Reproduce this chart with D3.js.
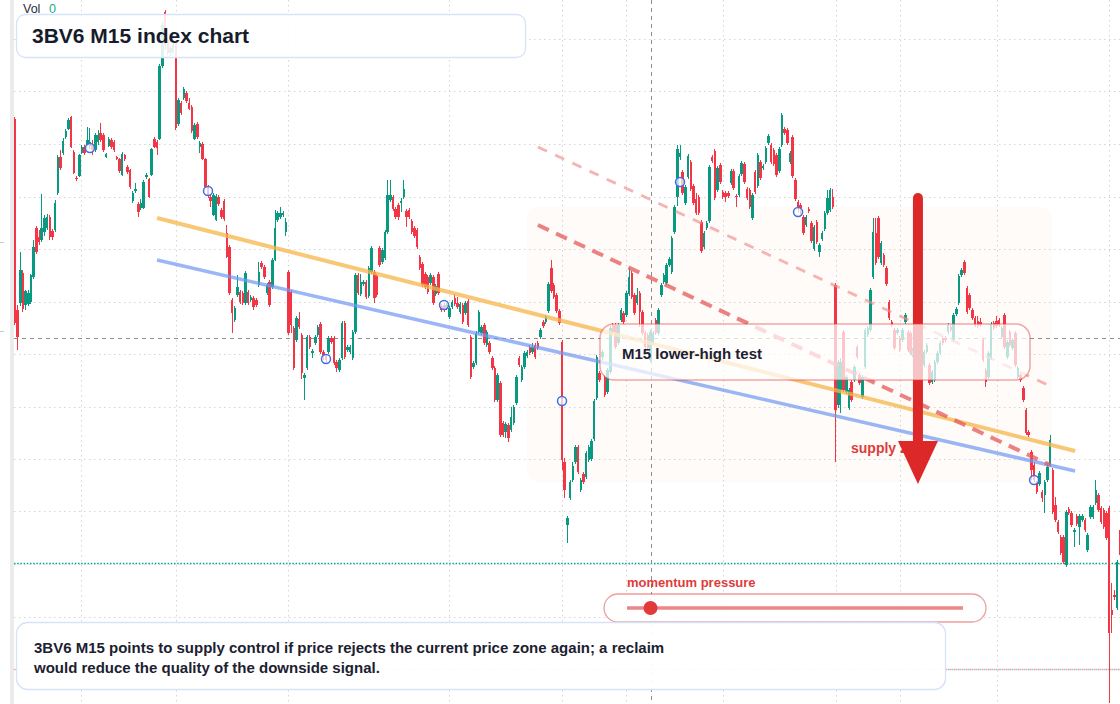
<!DOCTYPE html>
<html>
<head>
<meta charset="utf-8">
<script src="https://cdn.jsdelivr.net/npm/d3@7"></script>
<style>
  body { margin: 0; background: #fff; }
  svg { display: block; }
  text { font-family: "Liberation Sans", Arial, sans-serif; }
</style>
</head>
<body>
<div class="svg-container"></div>
<script>
// M15 candles (index units on x, price units on y)
const opens = [
  881,690,697,727,695,696,698,723,772,763, 760,768,772,783,769,770,807,843,847,863,
  871,883,848,822,824,847,853,855,854,855, 850,858,867,865,843,854,860,858,843,841,
  825,845,833,830,799,809,796,792,792,823, 821,825,861,858,861,934,988,960,947,948,
  958,876,897,902,907,897,893,861,876,853, 856,841,813,803,785,780,803,790,799,767,
  753,700,680,705,708,707,697,708,700,702, 700,715,737,733,707,718,713,740,780,783,
  785,768,728,708,672,660,681,665,622,632, 663,647,657,665,676,648,644,648,662,662,
  638,630,642,677,650,648,642,668,725,706, 716,718,704,728,728,724,752,738,742,768,
  800,803,791,795,797,803,789,790,779,772, 770,743,736,726,723,717,723,706,726,694,
  695,692,683,693,702,697,688,695,687,699, 663,633,637,668,667,675,655,657,642,632,
  600,617,577,568,575,570,577,597,642,620, 633,644,653,648,655,657,663,678,678,689,
  732,715,705,689,658,538,475,502,520,538, 553,510,526,523,540,541,561,602,627,643,
  623,608,628,675,675,657,680,687,685,706, 727,705,697,707,688,667,665,640,657,680,
  667,705,718,717,735,728,768,803,843,828, 797,823,838,814,801,803,778,753,772,779,
  843,849,810,835,808,807,807,817,829,804, 805,826,836,811,810,782,828,814,838,832,
  838,857,855,850,845,829,855,871,870,838, 863,820,798,795,783,775,791,777,751,778,
  748,761,771,787,790,803,715,595,610,668, 608,592,618,620,653,625,603,633,665,670,
  723,767,782,737,745,732,698,678,670,667, 662,660,678,668,667,645,645,655,640,635,
  648,635,618,620,638,647,662,662,668,673, 660,686,697,725,738,712,705,690,682,679,
  678,660,630,623,642,677,679,680,663,685, 643,668,652,667,623,625,612,590,568,548,
  535,517,516,508,505,520,535,530,495,478, 463,463,435,491,487,468,484,473,480,480,
  450,483,483,497,505,492,490,487,492,390, 405,392,457
];
const highs = [
  883,695,748,730,710,710,726,760,774,770, 806,785,786,785,771,800,845,850,862,871,
  882,884,850,824,846,855,855,873,872,860, 867,870,877,867,847,863,862,860,844,842,
  848,846,835,831,809,817,798,801,820,827, 822,852,863,860,936,978,990,962,954,958,
  960,902,899,913,909,902,895,877,878,859, 858,842,815,805,807,806,805,792,801,775,
  755,702,694,725,710,709,729,710,705,704, 702,738,739,735,717,720,742,790,789,793,
  789,782,730,710,674,684,688,667,627,665, 665,651,665,675,678,650,646,664,664,664,
  640,642,679,679,655,655,670,727,727,726, 720,720,734,754,730,726,754,752,770,820,
  820,805,793,797,802,820,791,792,781,774, 772,745,738,728,725,727,725,716,728,696,
  697,697,694,700,706,703,698,697,699,701, 665,639,669,690,675,677,670,659,644,634,
  627,619,579,578,577,593,595,625,644,635, 649,650,655,657,657,659,672,680,685,718,
  740,717,707,691,660,542,484,520,538,555, 555,522,528,549,555,561,601,645,629,650,
  625,632,674,677,677,677,692,689,709,732, 729,707,712,709,690,669,667,670,669,682,
  692,717,727,737,743,764,795,855,855,830, 815,846,840,816,807,805,780,769,779,835,
  845,851,834,837,810,809,809,831,831,806, 826,839,838,813,812,807,830,847,840,836,
  854,866,857,852,847,853,887,873,872,849, 865,822,800,797,785,785,793,779,775,780,
  757,769,789,810,812,811,717,640,642,670, 625,612,620,635,655,627,625,672,674,712,
  782,782,784,759,747,734,700,680,672,672, 664,672,687,670,669,654,652,657,652,650,
  657,637,630,640,649,659,664,664,677,675, 687,693,726,732,740,714,707,692,684,684,
  682,662,632,649,678,679,684,682,674,687, 660,670,662,669,634,627,614,592,570,550,
  538,519,529,510,520,535,565,532,503,480, 465,465,490,493,489,472,486,486,486,482,
  467,495,495,520,507,494,492,489,494,417, 410,440,470
];
const lows = [
  675,650,694,688,690,694,696,721,746,755, 758,764,770,760,760,768,805,830,845,861,
  870,852,826,819,823,846,845,854,851,845, 848,855,858,848,842,853,851,848,840,827,
  824,839,826,811,797,807,783,790,791,821, 802,824,852,845,860,932,950,945,944,946,
  870,874,885,900,897,890,867,860,861,847, 840,812,802,793,784,779,794,781,779,742,
  705,667,678,703,696,695,695,695,698,690, 693,713,731,721,705,693,711,739,778,781,
  783,764,665,667,630,658,671,621,600,630, 651,642,655,663,646,640,638,646,656,635,
  628,628,640,641,648,646,640,666,705,704, 714,701,702,726,697,703,733,736,740,766,
  798,789,781,780,788,801,773,781,766,762, 751,730,713,711,706,715,695,704,705,688,
  688,690,681,691,694,691,686,676,685,673, 621,631,635,666,665,655,653,646,630,598,
  598,563,563,562,558,568,575,595,633,618, 631,642,645,646,641,650,661,672,676,687,
  707,701,687,675,530,502,457,500,518,536, 526,508,516,521,538,539,559,600,618,640,
  603,606,626,666,651,655,678,676,683,704, 701,685,695,673,665,651,650,638,655,665,
  665,703,716,715,733,726,766,794,840,805, 795,821,809,795,785,785,747,751,770,777,
  837,800,808,816,801,798,802,815,810,793, 803,824,816,800,791,780,806,812,820,830,
  836,855,836,834,823,827,853,865,855,836, 822,799,788,785,765,773,787,757,749,756,
  743,759,769,785,788,791,538,592,587,608, 606,590,598,618,641,615,601,631,663,668,
  721,735,741,735,733,714,680,673,650,665, 648,658,676,648,645,643,643,646,638,633,
  646,615,616,618,636,645,655,658,666,668, 658,684,695,723,725,686,690,680,673,672,
  673,638,613,621,640,670,672,673,661,651, 641,653,650,633,621,618,598,565,563,520,
  518,506,514,498,487,518,533,486,478,466, 445,436,433,485,473,453,474,455,478,468,
  448,481,481,495,488,476,471,460,297,367, 400,390,445
];
const closes = [
  677,663,730,691,709,707,725,753,748,758, 772,782,783,763,763,797,843,832,859,869,
  880,853,827,821,845,853,847,860,858,850, 865,865,860,850,846,861,853,850,841,829,
  846,841,828,813,807,811,788,797,818,825, 803,851,853,852,934,975,955,947,952,956,
  872,900,887,911,899,891,869,875,863,857, 841,813,805,799,805,804,796,783,781,743,
  707,687,692,713,698,697,727,697,703,693, 695,728,733,723,715,695,740,772,787,787,
  787,778,667,675,632,682,673,627,625,663, 653,649,663,673,648,644,640,662,658,637,
  632,640,677,643,653,653,668,725,707,718, 718,703,732,752,702,705,735,750,768,805,
  805,791,783,783,799,811,783,783,768,764, 753,732,715,713,708,725,697,714,707,690,
  691,695,692,698,696,693,696,678,697,675, 623,637,667,688,673,657,668,648,632,600,
  625,565,565,576,562,583,593,623,635,633, 647,648,647,653,643,652,670,674,683,716,
  709,703,689,677,540,510,482,518,534,553, 528,520,518,547,553,559,599,643,620,648,
  605,630,672,668,653,675,690,678,707,723, 703,687,705,688,667,653,652,668,667,667,
  690,715,725,735,741,762,793,851,847,807, 813,844,811,797,787,787,749,767,777,833,
  839,802,832,818,803,803,804,829,812,803, 824,837,818,802,793,805,808,845,822,834,
  852,864,838,836,825,851,885,867,857,847, 824,801,793,792,767,783,789,759,773,758,
  755,767,787,802,810,793,590,638,638,610, 623,610,600,633,643,617,623,670,672,710,
  768,737,743,757,735,716,682,675,652,670, 650,670,685,650,647,652,650,648,650,648,
  655,617,628,638,647,657,657,660,675,670, 685,691,724,730,727,688,692,682,675,674,
  675,640,618,647,676,672,674,675,672,653, 658,655,660,635,632,620,600,567,565,530,
  520,508,527,502,518,533,560,488,480,468, 447,438,488,487,475,470,476,484,484,470,
  465,493,493,510,490,478,473,462,367,385, 403,438,447
];

// grid ticks (no labels are shown on the picture)
const priceGrid = [961, 908.5, 856, 803.5, 751, 698.5, 646, 593.5, 541, 488.5, 436, 383.5, 331];
const timeTicks = [24.5, 60, 102, 162, 204, 228, 264, 306, 330, 366, 408];
const leftAxisTicks = [758, 669];

// annotations in data units
const markerIdx = [28, 72, 116, 160, 204, 248, 292, 336, 380];
const markerPrices = [852, 809, 641, 695, 599, 818, 788, 647, 520];
const resistanceLine = [[53, 782], [395.3, 549]];
const supportLine = [[53, 740], [395.3, 529]];
const channelLower = [[195, 775], [386, 535]];
const channelUpper = [[195, 853], [386.7, 613]];
const zoneIdx = [190.9, 386.7];
const zonePrices = [793, 518];
const arrowIdx = 336.7;
const arrowPrices = [802, 559, 516]; // top, head base, tip
const crossIdx = 237;
const crossPrice = 662;
const tealLevel = 437;
const pinkLevel = 331;
const momentumValue = 7; // 0..100

const up = '#089981';
const down = '#f23645';

const width = 1120;
const height = 704;

const svg = d3.select('.svg-container')
  .append('svg')
  .attr('width', width)
  .attr('height', height);

const x = d3.scaleLinear().domain([0, opens.length - 1]).range([14.9, 1119.9]);
const y = d3.scaleLinear().domain([300, 1000]).range([700, 0]);
const px = v => Math.round(v) + 0.5;

svg.append('rect').attr('width', width).attr('height', height).attr('fill', '#fff');

// left price-scale strip
svg.append('rect').attr('x', 10).attr('y', 0).attr('width', 4).attr('height', height).attr('fill', '#ebebeb');
svg.append('g').selectAll('line').data(leftAxisTicks).join('line')
  .attr('x1', 0).attr('x2', 4)
  .attr('y1', d => px(y(d))).attr('y2', d => px(y(d)))
  .attr('stroke', '#c8c8c8');

// grid
const grid = svg.append('g').attr('stroke', '#d4d4d4').attr('stroke-dasharray', '1.5,3.5');
grid.append('g').selectAll('line').data(priceGrid).join('line')
  .attr('x1', 14).attr('x2', width)
  .attr('y1', d => px(y(d))).attr('y2', d => px(y(d)));
grid.append('g').selectAll('line').data(timeTicks).join('line')
  .attr('x1', d => px(x(d))).attr('x2', d => px(x(d)))
  .attr('y1', 0).attr('y2', height);

// supply zone
svg.append('rect')
  .attr('x', x(zoneIdx[0])).attr('width', x(zoneIdx[1]) - x(zoneIdx[0]))
  .attr('y', y(zonePrices[0])).attr('height', y(zonePrices[1]) - y(zonePrices[0]))
  .attr('rx', 12)
  .attr('fill', 'rgba(240, 190, 140, 0.06)');

// levels and crosshair
svg.append('line')
  .attr('x1', 14).attr('x2', width)
  .attr('y1', px(y(tealLevel))).attr('y2', px(y(tealLevel)))
  .attr('stroke', '#0aa488').attr('stroke-width', 1.4).attr('stroke-dasharray', '1.5,1.7');
svg.append('line')
  .attr('x1', 14).attr('x2', width)
  .attr('y1', px(y(pinkLevel))).attr('y2', px(y(pinkLevel)))
  .attr('stroke', '#f49a9a').attr('stroke-width', 1.3).attr('stroke-dasharray', '1.5,2.5');
svg.append('line')
  .attr('x1', 16).attr('x2', width)
  .attr('y1', px(y(pinkLevel))).attr('y2', px(y(pinkLevel)))
  .attr('stroke', '#8fd3c6').attr('stroke-width', 1.3).attr('stroke-dasharray', '1.5,2.5');

svg.append('line')
  .attr('x1', 14).attr('x2', width)
  .attr('y1', px(y(crossPrice))).attr('y2', px(y(crossPrice)))
  .attr('stroke', '#8c8c8c').attr('stroke-dasharray', '4,4');
svg.append('line')
  .attr('x1', px(x(crossIdx))).attr('x2', px(x(crossIdx)))
  .attr('y1', 0).attr('y2', height)
  .attr('stroke', '#8c8c8c').attr('stroke-dasharray', '4,4');

// candles
const candles = opens.map((o, i) => ({ i, o, h: highs[i], l: lows[i], c: closes[i] }));
const cg = svg.append('g').attr('shape-rendering', 'crispEdges');
cg.append('g').selectAll('line').data(candles).join('line')
  .attr('x1', d => x(d.i)).attr('x2', d => x(d.i))
  .attr('y1', d => y(d.h)).attr('y2', d => y(d.l))
  .attr('stroke', d => d.c >= d.o ? up : down)
  .attr('stroke-width', 1);
cg.append('g').selectAll('rect').data(candles).join('rect')
  .attr('x', d => x(d.i) - 1.25)
  .attr('width', 2.5)
  .attr('y', d => y(Math.max(d.o, d.c)))
  .attr('height', d => Math.max(1, Math.abs(y(d.o) - y(d.c))))
  .attr('fill', d => d.c >= d.o ? up : down);

// trend lines
const line = d3.line().x(d => x(d[0])).y(d => y(d[1]));
svg.append('path').attr('d', line(resistanceLine))
  .attr('stroke', '#f5b54a').attr('stroke-opacity', 0.75).attr('stroke-width', 4).attr('fill', 'none');
svg.append('path').attr('d', line(supportLine))
  .attr('stroke', '#6f97f2').attr('stroke-opacity', 0.7).attr('stroke-width', 3.5).attr('fill', 'none');
svg.append('path').attr('d', line(channelLower))
  .attr('stroke', '#e5585a').attr('stroke-opacity', 0.75).attr('stroke-width', 4)
  .attr('stroke-dasharray', '12,8').attr('fill', 'none');
svg.append('path').attr('d', line(channelUpper))
  .attr('stroke', '#f08c8c').attr('stroke-opacity', 0.65).attr('stroke-width', 2.8)
  .attr('stroke-dasharray', '10,9').attr('fill', 'none');

// swing markers
svg.append('g').selectAll('circle').data(markerIdx).join('circle')
  .attr('cx', d => x(d))
  .attr('cy', (d, i) => y(markerPrices[i]))
  .attr('r', 4.5)
  .attr('fill', 'rgba(255,255,255,0.7)')
  .attr('stroke', '#3f6fe6')
  .attr('stroke-width', 1.5);

// supply zone label and arrow
svg.append('text')
  .attr('x', 851).attr('y', 453)
  .attr('font-size', 14).attr('font-weight', 'bold')
  .attr('fill', '#e03b3b')
  .text('supply zone');

const ax = x(arrowIdx);
svg.append('line')
  .attr('x1', ax).attr('x2', ax)
  .attr('y1', y(arrowPrices[0])).attr('y2', y(arrowPrices[1]) + 4)
  .attr('stroke', '#dc2828').attr('stroke-width', 10).attr('stroke-linecap', 'round');
svg.append('path')
  .attr('d', `M${ax - 20},${y(arrowPrices[1])} L${ax + 20},${y(arrowPrices[1])} L${ax},${y(arrowPrices[2])} Z`)
  .attr('fill', '#dc2828');

// lower-high test box
svg.append('rect')
  .attr('x', 600).attr('y', 324).attr('width', 430).attr('height', 56).attr('rx', 14)
  .attr('fill', 'rgba(255,255,255,0.72)')
  .attr('stroke', 'rgba(225, 60, 60, 0.45)').attr('stroke-width', 1.5);
svg.append('text')
  .attr('x', 622).attr('y', 359)
  .attr('font-size', 15).attr('font-weight', 'bold').attr('fill', '#1c2130')
  .text('M15 lower-high test');

// momentum pressure gauge
const slider = d3.scaleLinear().domain([0, 100]).range([627, 963]);
svg.append('text')
  .attr('x', 627).attr('y', 587)
  .attr('font-size', 13).attr('font-weight', 'bold').attr('fill', '#e03b3b')
  .text('momentum pressure');
svg.append('rect')
  .attr('x', 604).attr('y', 594).attr('width', 382).attr('height', 28).attr('rx', 14)
  .attr('fill', 'rgba(255,255,255,0.92)')
  .attr('stroke', 'rgba(225, 60, 60, 0.5)').attr('stroke-width', 1.3);
svg.append('line')
  .attr('x1', slider(0)).attr('x2', slider(100)).attr('y1', 608).attr('y2', 608)
  .attr('stroke', '#ee8686').attr('stroke-width', 3.5);
svg.append('circle')
  .attr('cx', slider(momentumValue)).attr('cy', 608).attr('r', 7)
  .attr('fill', '#e23a3a');

// title box
svg.append('rect')
  .attr('x', 16.5).attr('y', 14.5).attr('width', 509).attr('height', 43).attr('rx', 9)
  .attr('fill', 'rgba(255,255,255,0.88)')
  .attr('stroke', '#d5e2f8').attr('stroke-width', 1.3);
svg.append('text')
  .attr('x', 32).attr('y', 43)
  .attr('font-size', 21).attr('font-weight', 'bold').attr('fill', '#161c2b')
  .text('3BV6 M15 index chart');

// volume legend
svg.append('text').attr('x', 23).attr('y', 13).attr('font-size', 12.5).attr('fill', '#2a2e39').text('Vol');
svg.append('text').attr('x', 49).attr('y', 13).attr('font-size', 12.5).attr('fill', '#22ab94').text('0');

// summary box
svg.append('rect')
  .attr('x', 16.5).attr('y', 622.5).attr('width', 929).attr('height', 67).attr('rx', 11)
  .attr('fill', 'rgba(255,255,255,0.95)')
  .attr('stroke', '#d5e2f8').attr('stroke-width', 1.3);
const summary = [
  '3BV6 M15 points to supply control if price rejects the current price zone again; a reclaim',
  'would reduce the quality of the downside signal.'
];
svg.append('g').selectAll('text').data(summary).join('text')
  .attr('x', 34).attr('y', (d, i) => 653 + i * 19.5)
  .attr('font-size', 15).attr('font-weight', 'bold').attr('fill', '#1c2130')
  .text(d => d);
</script>
</body>
</html>
